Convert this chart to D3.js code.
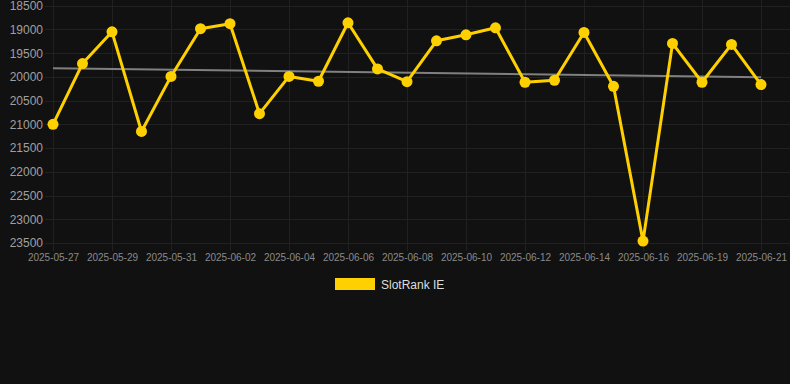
<!DOCTYPE html>
<html>
<head>
<meta charset="utf-8">
<script src="https://cdn.jsdelivr.net/npm/d3@7"></script>
<style>
  html, body { margin: 0; padding: 0; background: #111111; }
  svg { display: block; }
  text { font-family: "Liberation Sans", Arial, sans-serif; }
</style>
</head>
<body>
<svg id="chart" width="790" height="384"></svg>
<script>
const dates = ["2025-05-27","2025-05-28","2025-05-29","2025-05-30","2025-05-31","2025-06-01","2025-06-02","2025-06-03","2025-06-04","2025-06-05","2025-06-06","2025-06-07","2025-06-08","2025-06-09","2025-06-10","2025-06-11","2025-06-12","2025-06-13","2025-06-14","2025-06-15","2025-06-16","2025-06-17","2025-06-19","2025-06-20","2025-06-21"];
const ranks = [21000,19720,19050,21150,19990,18985,18880,20775,19990,20092,18860,19832,20100,19240,19113,18965,20113,20071,19063,20198,23460,19295,20113,19316,20162];
const trendValues = [19817, 20007];
const yTicks = [18500,19000,19500,20000,20500,21000,21500,22000,22500,23000,23500];
const seriesName = "SlotRank IE";

const svg = d3.select("#chart");
const W = 790;
const x = d3.scalePoint().domain(dates).range([53, 761]);
const y = d3.scaleLinear().domain([18500, 23500]).range([5.7, 243]);

const gridColor = "#212121";
// horizontal grid
svg.append("g").selectAll("line").data(yTicks).join("line")
  .attr("x1", 45).attr("x2", W)
  .attr("y1", d => Math.round(y(d)) + 0.5).attr("y2", d => Math.round(y(d)) + 0.5)
  .attr("stroke", gridColor).attr("stroke-width", 1);
// vertical grid at labeled ticks
const labeled = dates.filter((d, i) => i % 2 === 0);
svg.append("g").selectAll("line").data(labeled).join("line")
  .attr("x1", d => Math.round(x(d)) + 0.5).attr("x2", d => Math.round(x(d)) + 0.5)
  .attr("y1", 0).attr("y2", 251)
  .attr("stroke", gridColor).attr("stroke-width", 1);

// y axis labels
const yAxis = d3.axisLeft(y).tickValues(yTicks).tickSize(0).tickPadding(0).tickFormat(d3.format("d"));
const gy = svg.append("g").attr("transform", "translate(43,0)").call(yAxis);
gy.select(".domain").remove();
gy.selectAll("text").attr("fill", "#a0a0a0").attr("font-size", 12)
  .attr("font-family", "'Liberation Sans', Arial, sans-serif");

// x axis labels
const xAxis = d3.axisBottom(x).tickValues(labeled).tickSize(0).tickPadding(0);
const gx = svg.append("g").attr("transform", "translate(0,254)").call(xAxis);
gx.select(".domain").remove();
gx.selectAll("text").attr("fill", "#8a8a8a").attr("font-size", 10)
  .attr("font-family", "'Liberation Sans', Arial, sans-serif");

// trend line
svg.append("line")
  .attr("x1", x(dates[0])).attr("x2", x(dates[dates.length - 1]))
  .attr("y1", y(trendValues[0])).attr("y2", y(trendValues[1]))
  .attr("stroke", "#808080").attr("stroke-width", 2);

const gold = "#FFD000";
const line = d3.line().x((d, i) => x(dates[i])).y(d => y(d));
svg.append("path").datum(ranks)
  .attr("d", line).attr("fill", "none")
  .attr("stroke", gold).attr("stroke-width", 3).attr("stroke-linejoin", "round");
svg.append("g").selectAll("circle").data(ranks).join("circle")
  .attr("cx", (d, i) => x(dates[i])).attr("cy", d => y(d)).attr("r", 5.5)
  .attr("fill", gold);

// legend
const lg = svg.append("g");
lg.append("rect").attr("x", 335).attr("y", 278).attr("width", 40).attr("height", 12).attr("fill", gold);
lg.append("text").attr("x", 381).attr("y", 288.5).text(seriesName)
  .attr("fill", "#dddddd").attr("font-size", 12);
</script>
</body>
</html>
